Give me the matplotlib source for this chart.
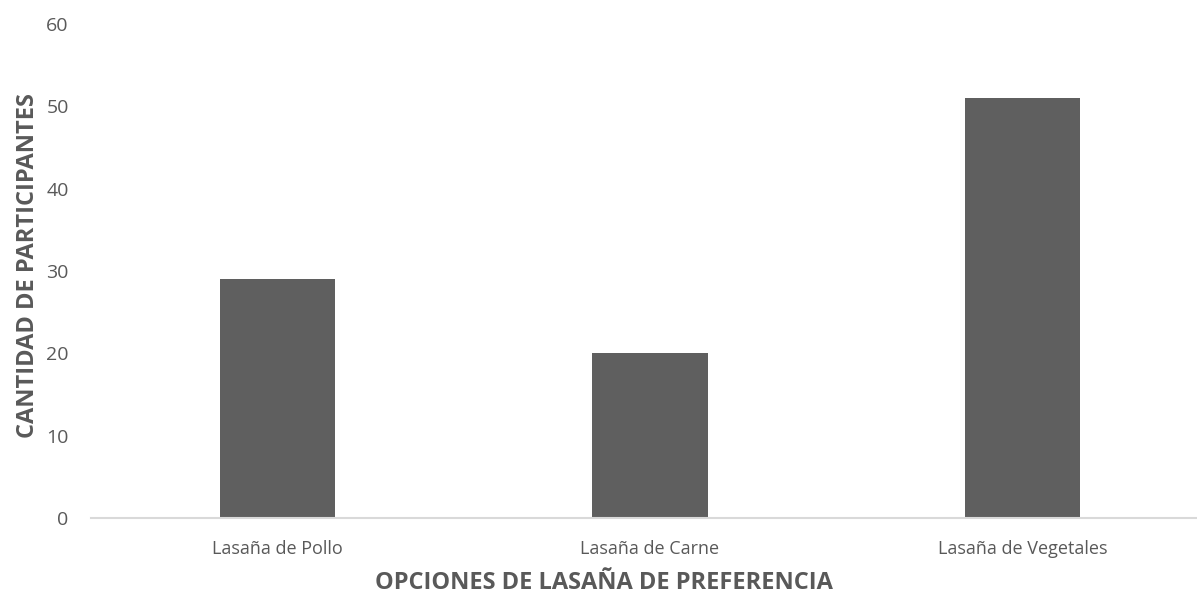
import matplotlib
matplotlib.use("Agg")
from matplotlib import pyplot as plt

# data
categories = ["Lasaña de Pollo", "Lasaña de Carne", "Lasaña de Vegetales"]
participants = [29, 20, 51]
y_ticks = [0, 10, 20, 30, 40, 50, 60]

plt.rcParams["font.family"] = ["Open Sans", "DejaVu Sans"]
text_color = "#595959"

fig = plt.figure(figsize=(11.97, 5.98), dpi=100)
ax = fig.add_axes([0.076, 0.134, 0.934, 0.826])

x = range(len(categories))
ax.bar(x, participants, width=0.31, color="#5f5f5f", zorder=2)

ax.set_xlim(-0.5, len(categories) - 0.5)
ax.set_ylim(0, 60)
ax.set_yticks(y_ticks)
ax.set_xticks(list(x))
ax.set_xticklabels(categories)

for side in ["top", "right", "left"]:
    ax.spines[side].set_visible(False)
ax.spines["bottom"].set_color("#d9d9d9")
ax.spines["bottom"].set_linewidth(1.5)
ax.spines["bottom"].set_clip_on(False)

ax.tick_params(axis="both", length=0, colors=text_color)
ax.tick_params(axis="y", pad=16, labelsize=14)
ax.tick_params(axis="x", pad=16, labelsize=13)

ax.set_xlabel("OPCIONES DE LASAÑA DE PREFERENCIA", fontsize=17, fontweight="bold",
              color=text_color)
ax.set_ylabel("CANTIDAD DE PARTICIPANTES", fontsize=17, fontweight="bold",
              color=text_color)
ax.xaxis.label.set_va("center")
ax.yaxis.label.set_va("center")
ax.xaxis.set_label_coords(0.459, -0.132)
ax.yaxis.set_label_coords(-0.056, 0.51)

fig.savefig("out.png", dpi=100)
